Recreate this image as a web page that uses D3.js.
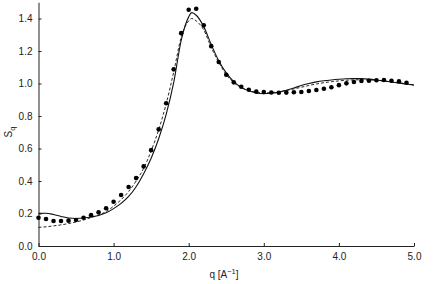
<!DOCTYPE html>
<html><head><meta charset="utf-8">
<script src="https://cdn.jsdelivr.net/npm/d3@7"></script>
<style>body{margin:0;background:#fff}svg{display:block}text{font-family:"Liberation Sans",Arial,sans-serif;fill:#222}</style>
</head><body>
<script>
// Experimental points (q step 0.1)
const dotQ = [0.0,0.1,0.2,0.3,0.4,0.5,0.6,0.7,0.8,0.9,1.0,1.1,1.2,1.3,1.4,1.5,1.6,1.7,1.8,1.9,2.0,2.1,2.2,2.3,2.4,2.5,2.6,2.7,2.8,2.9,3.0,3.1,3.2,3.3,3.4,3.5,3.6,3.7,3.8,3.9,4.0,4.1,4.2,4.3,4.4,4.5,4.6,4.7,4.8,4.9];
const dotS = [0.174,0.166,0.154,0.154,0.156,0.160,0.174,0.190,0.207,0.232,0.272,0.314,0.363,0.418,0.490,0.590,0.718,0.878,1.087,1.310,1.454,1.460,1.358,1.230,1.132,1.054,1.007,0.980,0.962,0.950,0.948,0.945,0.943,0.944,0.946,0.948,0.954,0.960,0.968,0.977,0.990,1.001,1.009,1.015,1.017,1.020,1.022,1.017,1.013,1.005];
// Solid model curve
const solidQ = [0,0.1,0.2,0.3,0.4,0.5,0.6,0.7,0.8,0.9,1.0,1.1,1.2,1.3,1.4,1.5,1.6,1.7,1.8,1.9,2.0,2.04,2.1,2.2,2.3,2.4,2.5,2.6,2.7,2.8,2.9,3.0,3.1,3.2,3.3,3.4,3.5,3.6,3.7,3.8,3.9,4.0,4.1,4.2,4.3,4.4,4.5,4.6,4.7,4.8,4.9,5.0];
const solidS = [0.201,0.202,0.194,0.182,0.172,0.169,0.172,0.178,0.188,0.204,0.230,0.262,0.305,0.365,0.445,0.540,0.660,0.810,1.005,1.265,1.410,1.436,1.420,1.350,1.240,1.140,1.065,1.012,0.976,0.955,0.942,0.937,0.940,0.947,0.958,0.972,0.988,1.000,1.010,1.017,1.022,1.026,1.029,1.030,1.030,1.027,1.022,1.016,1.009,1.003,0.997,0.990];
// Dashed model curve
const dashQ = solidQ;
const dashS = [0.115,0.118,0.124,0.130,0.138,0.148,0.160,0.175,0.190,0.212,0.245,0.285,0.335,0.400,0.478,0.585,0.715,0.875,1.070,1.285,1.385,1.400,1.385,1.330,1.222,1.130,1.055,1.005,0.975,0.957,0.946,0.942,0.944,0.949,0.957,0.967,0.977,0.988,0.997,1.005,1.011,1.016,1.020,1.022,1.023,1.022,1.019,1.015,1.010,1.004,0.998,0.992];
const xTicks = [0,1,2,3,4,5];
const yTicks = [0,0.2,0.4,0.6,0.8,1.0,1.2,1.4];

const W = 442, H = 284;
const svg = d3.select("body").append("svg").attr("width", W).attr("height", H);
const x = d3.scaleLinear().domain([0,5]).range([38.5,414]);
const y = d3.scaleLinear().domain([0,1.5]).range([246,2.25]);

const xa = svg.append("g").attr("transform","translate(0,246)")
  .call(d3.axisBottom(x).tickValues(xTicks).tickFormat(d3.format(".1f")).tickSizeInner(-3).tickSizeOuter(0).tickPadding(7));
const ya = svg.append("g").attr("transform","translate(38.5,0)")
  .call(d3.axisLeft(y).tickValues(yTicks).tickFormat(d3.format(".1f")).tickSizeInner(-3).tickSizeOuter(0).tickPadding(6));
[xa,ya].forEach(a=>{
  a.selectAll("path,line").attr("stroke","#222").attr("stroke-width",1);
  a.selectAll("text").attr("font-size",10).style("font-family","Liberation Sans, Arial, sans-serif").attr("fill","#222");
});

const line = d3.line().x(d=>x(d[0])).y(d=>y(d[1])).curve(d3.curveMonotoneX);
svg.append("path").datum(solidQ.map((q,i)=>[q,solidS[i]]))
  .attr("d",line).attr("fill","none").attr("stroke","#111").attr("stroke-width",1.1);
svg.append("path").datum(dashQ.map((q,i)=>[q,dashS[i]]))
  .attr("d",line).attr("fill","none").attr("stroke","#111").attr("stroke-width",0.9).attr("stroke-dasharray","3,2");

svg.append("g").selectAll("circle").data(dotQ.map((q,i)=>[q,dotS[i]])).join("circle")
  .attr("cx",d=>x(d[0])).attr("cy",d=>y(d[1])).attr("r",2.3).attr("fill","#000");

// Axis titles
const xt = svg.append("text").attr("x",224).attr("y",278).attr("text-anchor","middle").attr("font-size",10);
xt.append("tspan").text("q [A");
xt.append("tspan").attr("dy",-4).attr("font-size",7.5).text("\u22121");
xt.append("tspan").attr("dy",4).text("]");
const yt = svg.append("text").attr("transform","translate(12,132) rotate(-90)").attr("text-anchor","middle").attr("font-size",10);
yt.append("tspan").text("S");
yt.append("tspan").attr("dy",3).attr("font-size",7.5).text("q");
</script>
</body></html>
